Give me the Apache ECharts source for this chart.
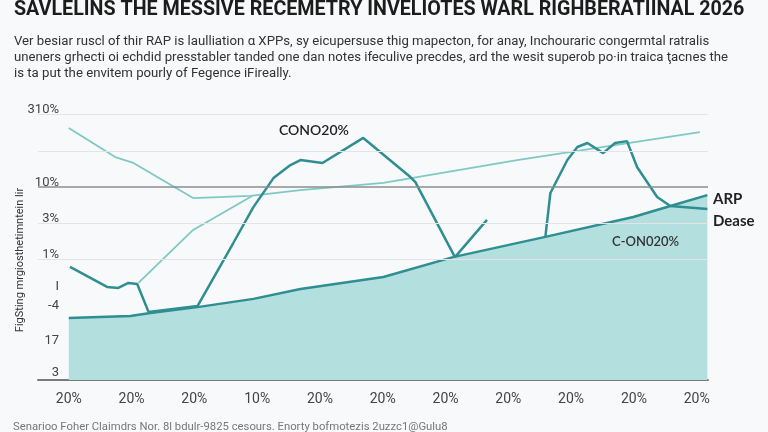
<!DOCTYPE html>
<html lang="en">
  <head>
    <meta charset="UTF-8" />
    <title>Savlelins chart</title>
    <script src="https://cdn.jsdelivr.net/npm/echarts@6/dist/echarts.min.js"></script>
    <style>
      html, body { margin: 0; padding: 0; background: #f8f9fa; }
      #chart { width: 768px; height: 432px; }
    </style>
  </head>
  <body>
    <div id="chart"></div>
    <script>
      // x positions are in "label steps" (0..10), y in 0..100 units of the plot
      const xLabels = ["20%", "20%", "20%", "10%", "20%", "20%", "20%", "20%", "20%", "20%", "20%"];
      const yLabelValues = [99, 71.6, 58, 44.5, 32.7, 25.6, 12.4, 0.2];
      const yLabelTexts = ["310%", "10%", "3%", "1%", "I", "-4", "17", "3"];
      const gridValues = [100, 86.1, 72.6, 59, 45.5];

      // filled baseline series
      const baseX = [0, 0.98, 1.3, 2.05, 2.94, 3.69, 5.01, 6.12, 7.59, 8.99, 9.58, 10.17];
      const baseY = [23.3, 24.1, 25.2, 27.4, 30.5, 34.2, 38.7, 46.2, 53.8, 61.3, 65.4, 69.5];

      // dark jagged line (null = break)
      const darkX = [0.02, 0.61, 0.79, 0.95, 1.09, 1.27, 2.05, 2.62, 2.94, 3.26, 3.53, 3.69, 4.04, 4.69, 5.44, 5.52, 6.15, 6.66, null,
                     7.59, 7.67, 7.94, 8.1, 8.26, 8.51, 8.7, 8.89, 9.05, 9.37, 9.58, 10.17];
      const darkY = [42.5, 35.0, 34.6, 36.5, 36.1, 25.6, 27.8, 51.5, 65.0, 75.9, 80.8, 82.7, 81.6, 91.0, 76.3, 74.4, 46.2, 60.2, null,
                     53.8, 70.3, 82.7, 87.6, 89.1, 85.3, 89.1, 89.8, 80.1, 68.8, 65.4, 64.3];

      // light lines
      const lightX = [0, 0.74, 1.03, 1.98, 2.89, 3.69, 5.01, 7.14, 10.05];
      const lightY = [94.7, 83.8, 81.6, 68.4, 69.2, 71.4, 74.1, 82.7, 93.2];
      const light2X = [1.11, 1.98, 2.92];
      const light2Y = [36.5, 56.4, 69.2];

      const pairs = (xs, ys) => xs.map((x, i) => (x === null ? "-" : [x, ys[i]]));

      const chart = echarts.init(document.getElementById("chart"));
      const narrow = 'Roboto, "Liberation Sans", sans-serif';

      chart.setOption({
        backgroundColor: "#f8f9fa",
        animation: false,
        title: [
          {
            text: "SAVLELINS THE MESSIVE RECEMETRY INVELIOTES WARL RIGHBERATIINAL 2026",
            left: 14, top: 0, padding: 0,
            textStyle: { fontFamily: narrow, fontSize: 19.7, fontWeight: "bold", color: "#1c1c1c" }
          },
          {
            text: "Ver besiar ruscl of thir RAP is laulliation α XPPs, sy eicupersuse thig mapecton, for anay, Inchouraric congermtal ratralis\n" +
                  "uneners grhecti oi echdid presstabler tanded one dan notes ifeculive precdes, ard the wesit superob po·in traica ţacnes the\n" +
                  "is ta put the envitem pourly of Fegence iFireally.",
            left: 14, top: 34, padding: 0,
            textStyle: { fontFamily: narrow, fontSize: 13.2, fontWeight: "normal", color: "#333", lineHeight: 16 }
          },
          {
            text: "Senarioo Foher Claimdrs Nor. 8l bdulr-9825 cesours. Enorty bofmotezis 2uzzc1@Gulu8",
            left: 13, top: 422, padding: 0,
            textStyle: { fontFamily: narrow, fontSize: 11.3, fontWeight: "normal", color: "#777" }
          }
        ],
        grid: { left: 38, right: 60, top: 114, bottom: 52, outerBoundsMode: "none" },
        xAxis: {
          type: "value",
          min: -0.49,
          max: 10.18,
          splitLine: { show: false },
          axisTick: { show: false },
          axisLine: { lineStyle: { color: "#7a7a7a", width: 2 } },
          axisLabel: {
            customValues: xLabels.map((_, i) => i),
            formatter: (v) => xLabels[Math.round(v)],
            margin: 12,
            fontFamily: narrow, fontSize: 14, color: "#444"
          }
        },
        yAxis: {
          type: "value",
          min: 0,
          max: 100,
          splitLine: { show: false },
          axisTick: { show: false },
          axisLine: { show: false },
          axisLabel: {
            customValues: yLabelValues,
            formatter: (v) => yLabelTexts[yLabelValues.indexOf(v)],
            margin: -21,
            verticalAlign: "bottom",
            fontFamily: narrow, fontSize: 13, color: "#444"
          }
        },
        series: [
          {
            type: "line",
            data: pairs(baseX, baseY),
            symbol: "none",
            lineStyle: { color: "#2f8e91", width: 2.5 },
            areaStyle: { color: "#b4dfdf", opacity: 1 },
            z: 2,
            markLine: {
              silent: true,
              symbol: "none",
              label: { show: false },
              data: gridValues.map((v) => ({
                yAxis: v,
                lineStyle: v === 72.6
                  ? { color: "#8c8c8c", width: 1.5, type: "solid" }
                  : { color: "#e2e4e5", width: 1.2, type: "solid" }
              }))
            }
          },
          {
            type: "line",
            data: pairs(lightX, lightY),
            symbol: "none",
            lineStyle: { color: "#7fc9c5", width: 1.8 },
            z: 3
          },
          {
            type: "line",
            data: pairs(light2X, light2Y),
            symbol: "none",
            lineStyle: { color: "#7fc9c5", width: 1.8 },
            z: 3
          },
          {
            type: "line",
            data: pairs(darkX, darkY),
            symbol: "none",
            connectNulls: false,
            lineStyle: { color: "#2f8e91", width: 2.5 },
            z: 4
          }
        ],
        graphic: [
          {
            type: "text", x: 20, y: 260, rotation: Math.PI / 2, z: 10,
            style: {
              text: "FigSting mrgiosthetimntein lir", font: '11px Roboto, sans-serif', fill: "#333",
              align: "center", verticalAlign: "middle"
            }
          },
          {
            type: "text", left: 279, top: 123, z: 10,
            style: { text: "CONO20%", font: '600 14px Lato, "DejaVu Sans", sans-serif', fill: "#222" }
          },
          {
            type: "text", left: 713, top: 192, z: 10,
            style: { text: "ARP", font: 'bold 15px Lato, "DejaVu Sans", sans-serif', fill: "#222" }
          },
          {
            type: "text", left: 713, top: 214, z: 10,
            style: { text: "Dease", font: 'bold 15px Lato, "DejaVu Sans", sans-serif', fill: "#222" }
          },
          {
            type: "text", left: 612, top: 235, z: 10,
            style: { text: "C-ON020%", font: '600 13px Lato, "DejaVu Sans", sans-serif', fill: "#333" }
          }
        ]
      });
    </script>
  </body>
</html>
